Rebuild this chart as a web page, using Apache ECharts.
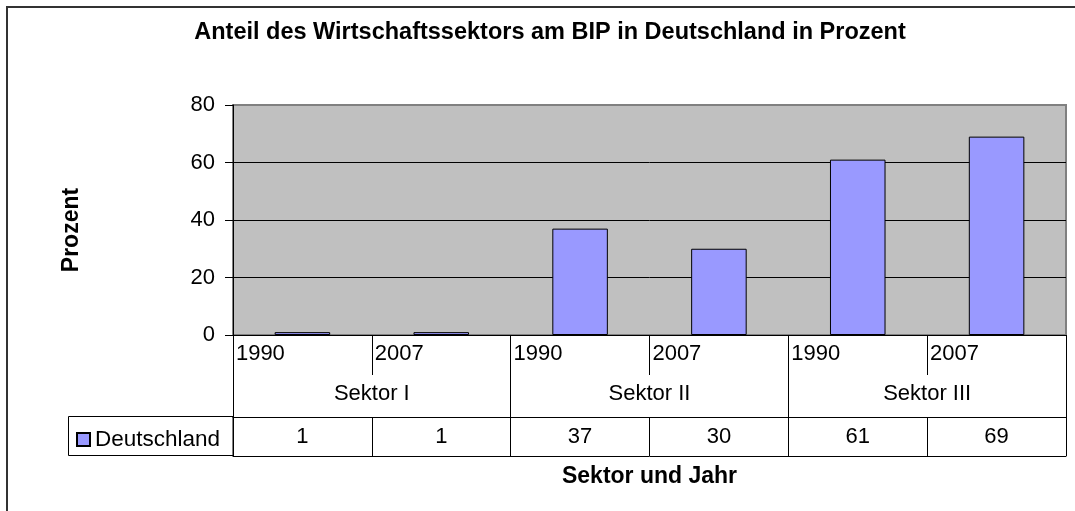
<!DOCTYPE html>
<html>
<head>
<meta charset="utf-8">
<script src="https://cdn.jsdelivr.net/npm/echarts@6/dist/echarts.min.js"></script>
<style>
html,body{margin:0;padding:0;background:#fff;}
#chart{width:1075px;height:511px;}
</style>
</head>
<body>
<div id="chart"></div>
<script>
// ---- data ----
var years = ['1990', '2007', '1990', '2007', '1990', '2007'];
var sectors = ['Sektor I', 'Sektor II', 'Sektor III'];
var values = [1, 1, 37, 30, 61, 69];
var seriesName = 'Deutschland';
var yTicks = [0, 20, 40, 60, 80];
var titleText = 'Anteil des Wirtschaftssektors am BIP in Deutschland in Prozent';
var xTitle = 'Sektor und Jahr';
var yTitle = 'Prozent';

var FONT = 'Liberation Sans, Arial, sans-serif';
var catIds = years.map(function (y, i) { return sectors[Math.floor(i / 2)] + ' ' + y; });

var chart = echarts.init(document.getElementById('chart'));
var option = {
  animation: false,
  backgroundColor: '#ffffff',
  textStyle: { fontFamily: FONT, color: '#000' },
  title: {
    text: titleText,
    left: 550,
    top: 21,
    textAlign: 'center',
    padding: 0,
    textStyle: { fontFamily: FONT, fontSize: 23.5, fontWeight: 'bold', color: '#000' }
  },
  legend: {
    data: [seriesName],
    left: 76,
    top: 428,
    padding: 0,
    icon: 'rect',
    itemWidth: 13,
    itemHeight: 13,
    textStyle: { fontFamily: FONT, fontSize: 22.5, color: '#000' }
  },
  grid: {
    left: 233, right: 9, top: 105, bottom: 176,
    show: true,
    backgroundColor: '#C0C0C0',
    borderColor: '#808080',
    borderWidth: 2
  },
  xAxis: [
    {
      type: 'category',
      data: catIds,
      position: 'bottom',
      axisLine: { show: true, lineStyle: { color: '#000', width: 1 } },
      axisTick: { show: true, interval: 0, length: 40, lineStyle: { color: '#000' } },
      axisLabel: {
        interval: 0,
        margin: 8,
        fontSize: 22,
        color: '#000',
        fontFamily: FONT,
        formatter: function (v, i) { return '{y|' + years[i] + '}'; },
        rich: { y: { width: 133, align: 'left', fontSize: 22, fontFamily: FONT, color: '#000' } }
      },
      splitLine: { show: false }
    },
    {
      type: 'category',
      data: sectors,
      position: 'bottom',
      gridIndex: 0,
      axisLine: { show: false },
      axisTick: { show: true, interval: 0, length: 82, lineStyle: { color: '#000' } },
      axisLabel: { interval: 0, margin: 48, fontSize: 22, color: '#000', fontFamily: FONT },
      splitLine: { show: false }
    },
    {
      type: 'category',
      data: catIds,
      position: 'bottom',
      offset: 82,
      axisLine: { show: true, lineStyle: { color: '#000', width: 1 } },
      axisTick: { show: true, interval: 0, length: 39, lineStyle: { color: '#000' } },
      axisLabel: {
        interval: 0, margin: 9, fontSize: 22, color: '#000', fontFamily: FONT,
        formatter: function (v, i) { return String(values[i]); }
      },
      splitLine: { show: false }
    },
    {
      type: 'category',
      data: catIds,
      position: 'bottom',
      offset: 121,
      axisLine: { show: true, lineStyle: { color: '#000', width: 1 } },
      axisTick: { show: false },
      axisLabel: { show: false },
      name: xTitle,
      nameLocation: 'middle',
      nameGap: 9,
      nameTextStyle: { fontFamily: FONT, fontSize: 23, fontWeight: 'bold', color: '#000', verticalAlign: 'top' },
      splitLine: { show: false }
    }
  ],
  yAxis: {
    type: 'value',
    min: yTicks[0],
    max: yTicks[yTicks.length - 1],
    interval: yTicks[1] - yTicks[0],
    axisLine: { show: true, lineStyle: { color: '#000', width: 1 } },
    axisTick: { show: true, length: 8, lineStyle: { color: '#000' } },
    axisLabel: { margin: 18, fontSize: 22, color: '#000', fontFamily: FONT },
    splitLine: { show: true, lineStyle: { color: ['#000', '#000', '#000', '#000', '#808080'], width: 1 } }
  },
  series: [{
    name: seriesName,
    type: 'bar',
    xAxisIndex: 0,
    yAxisIndex: 0,
    data: values,
    barWidth: '40%',
    itemStyle: { color: '#9999FF', borderColor: '#000', borderWidth: 1 }
  }],
  graphic: [
    {
      type: 'rect',
      silent: true,
      shape: { x: 7, y: 7, width: 1200, height: 700 },
      style: { fill: 'none', stroke: '#333', lineWidth: 2 },
      z: 100
    },
    {
      type: 'rect',
      silent: true,
      shape: { x: 68.5, y: 416.5, width: 164.5, height: 39 },
      style: { fill: 'none', stroke: '#000', lineWidth: 1 },
      z: 100
    },
    {
      type: 'text',
      silent: true,
      x: 72,
      y: 230,
      rotation: Math.PI / 2,
      style: {
        text: yTitle,
        fontFamily: FONT, fontSize: 23, fontWeight: 'bold', fill: '#000',
        align: 'center', verticalAlign: 'middle'
      }
    }
  ]
};
chart.setOption(option);
</script>
</body>
</html>
